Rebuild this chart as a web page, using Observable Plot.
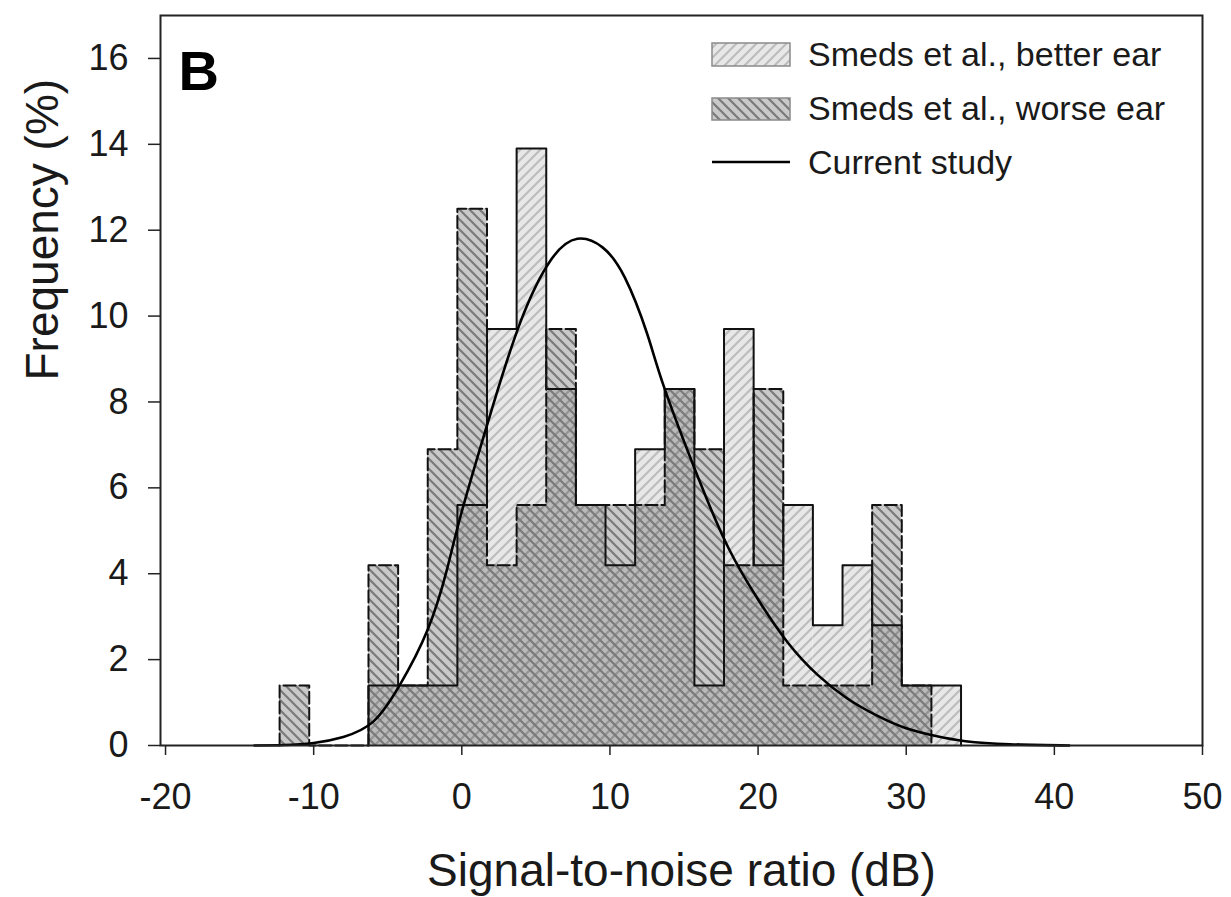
<!DOCTYPE html>
<html><head><meta charset="utf-8">
<script src="https://cdn.jsdelivr.net/npm/d3@7"></script>
<script src="https://cdn.jsdelivr.net/npm/@observablehq/plot@0.6"></script>
<style>
html,body{margin:0;padding:0;background:#fff;}
#chart svg{display:block;font-family:"Liberation Sans",Arial,Helvetica,sans-serif;}
</style></head><body><div id="chart"></div>
<script>
// ---- data ----
const binStarts = [-12.3,-10.3,-8.3,-6.3,-4.3,-2.3,-0.3,1.7,3.7,5.7,7.7,9.7,11.7,13.7,15.7,17.7,19.7,21.7,23.7,25.7,27.7,29.7,31.7];
const binWidth = 2;
const betterEar = [0,0,0,1.4,1.4,1.4,5.6,9.7,13.9,8.3,5.6,4.2,6.9,8.3,1.4,9.7,4.2,5.6,2.8,4.2,2.8,1.4,1.4];
const worseEar  = [1.4,0,0,4.2,1.4,6.9,12.5,4.2,5.6,9.7,5.6,5.6,5.6,8.3,6.9,4.2,8.3,1.4,1.4,1.4,5.6,1.4,0];
const curveX = [-14,-12,-10,-8,-6,-4.2,-2.3,-1,0,2,4,6,7.8,9.5,11,12.5,13.7,16,18,20,22,24,26,28,30,32,34,37,41];
const curveY = [0,0.01,0.06,0.2,0.55,1.4,2.7,4.1,5.45,7.8,9.9,11.3,11.8,11.6,10.9,9.6,8.3,6.2,4.6,3.4,2.4,1.65,1.1,0.7,0.4,0.22,0.1,0.03,0];
const xTicks = [-20,-10,0,10,20,30,40,50];
const yTicks = [0,2,4,6,8,10,12,14,16];
const seriesNames = ["Smeds et al., better ear","Smeds et al., worse ear","Current study"];
const xLabel = "Signal-to-noise ratio (dB)";
const yLabel = "Frequency (%)";
const panelLabel = "B";

// ---- derived tables ----
const bins = binStarts.map((s,i)=>({x1:s, x2:s+binWidth, better:betterEar[i], worse:worseEar[i], both:Math.min(betterEar[i],worseEar[i])}));
function stepPoints(vals){
  const first = vals.findIndex(v=>v>0);
  let last = vals.length-1; while(last>0 && !(vals[last]>0)) last--;
  const pts=[{x:binStarts[first],y:0}];
  for(let i=first;i<=last;i++) pts.push({x:binStarts[i],y:vals[i]});
  pts.push({x:binStarts[last]+binWidth,y:0});
  return pts;
}
const curve = curveX.map((x,i)=>({x, y:curveY[i]}));

const chart = Plot.plot({
  width:1231, height:897,
  marginLeft:160, marginRight:29, marginTop:15, marginBottom:152,
  x:{domain:[-20.34,50]},
  y:{domain:[0,17]},
  marks:[
    Plot.rectY(bins.filter(d=>d.better>0), {x1:"x1", x2:"x2", y:"better", fill:"url(#pBetter)"}),
    Plot.rectY(bins.filter(d=>d.worse>0), {x1:"x1", x2:"x2", y:"worse", fill:"url(#pWorse)"}),
    Plot.rectY(bins.filter(d=>d.both>0), {x1:"x1", x2:"x2", y:"both", fill:"url(#pBoth)"}),
    Plot.line(stepPoints(worseEar), {x:"x", y:"y", curve:"step-after", stroke:"#111", strokeWidth:2, strokeDasharray:"12,4"}),
    Plot.line(stepPoints(betterEar), {x:"x", y:"y", curve:"step-after", stroke:"#111", strokeWidth:2}),
    Plot.line(curve, {x:"x", y:"y", curve:"natural", stroke:"#000", strokeWidth:2.6}),
    Plot.axisX({ticks:xTicks, tickFormat:d=>String(d), tickSize:10, tickPadding:28, fontSize:36, label:null, stroke:"#222", strokeWidth:1.5, fill:"#1a1a1a"}),
    Plot.axisY({ticks:yTicks, tickFormat:d=>String(d), tickSize:12, tickPadding:20, fontSize:36, label:null, stroke:"#222", strokeWidth:1.5, fill:"#1a1a1a"}),
    Plot.frame({stroke:"#222", strokeWidth:2}),
    Plot.text([panelLabel], {text:d=>d, frameAnchor:"top-left", dx:18, dy:35, fontSize:56, fontWeight:"bold", textAnchor:"start", lineAnchor:"top", fill:"#000"}),
    Plot.text([xLabel], {text:d=>d, frameAnchor:"bottom", dy:126, fontSize:46, lineAnchor:"middle", fill:"#1a1a1a"}),
    Plot.text([yLabel], {text:d=>d, frameAnchor:"left", dx:-117, rotate:-90, fontSize:46, lineAnchor:"middle", fill:"#1a1a1a"})
  ]
});

// hatch pattern definitions
const svg = d3.select(chart);
const defs = svg.insert("defs", ":first-child");
function pattern(id, bg, lines){
  const p = defs.append("pattern").attr("id",id).attr("patternUnits","userSpaceOnUse").attr("width",10).attr("height",10);
  p.append("rect").attr("width",10).attr("height",10).attr("fill",bg);
  for(const [d,c] of lines) p.append("path").attr("d",d).attr("stroke",c).attr("stroke-width",2.2).attr("fill","none");
}
const fwd = "M0,10 L10,0 M-1,1 L1,-1 M9,11 L11,9";
const back = "M0,0 L10,10 M-1,9 L1,11 M9,-1 L11,1";
pattern("pBetter", "#e8e8e8", [[fwd,"#bdbdbd"]]);
pattern("pWorse", "#c9c9c9", [[back,"#7a7a7a"]]);
pattern("pBoth", "#bababa", [[fwd,"#949494"],[back,"#7a7a7a"]]);

// legend (inside the plot, top right)
const lg = svg.append("g").attr("font-size",34).attr("fill","#1a1a1a").attr("text-anchor","start");
lg.append("rect").attr("x",712).attr("y",43).attr("width",78).attr("height",23).attr("fill","url(#pBetter)").attr("stroke","#8a8a8a").attr("stroke-width",1.5);
lg.append("rect").attr("x",712).attr("y",98).attr("width",78).attr("height",22).attr("fill","url(#pWorse)").attr("stroke","#8a8a8a").attr("stroke-width",1.5);
lg.append("line").attr("x1",712).attr("x2",790).attr("y1",162).attr("y2",162).attr("stroke","#000").attr("stroke-width",2.6);
[66,120,174].forEach((y,i)=>lg.append("text").attr("x",808).attr("y",y).attr("text-anchor","start").text(seriesNames[i]));

document.getElementById("chart").appendChild(chart);
</script></body></html>
